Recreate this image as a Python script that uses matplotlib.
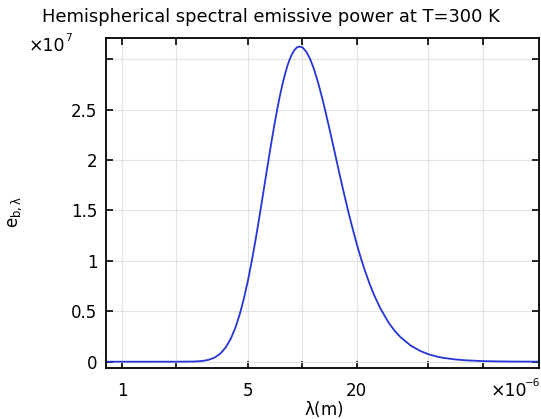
import matplotlib
matplotlib.use("Agg")
import matplotlib.pyplot as plt

# Wavelength (micrometres, i.e. x 1e-6 m) and emissive power (x 1e7)
wavelength_um = [0.81, 1.0, 1.5, 2.0, 2.5, 2.75, 3.0, 3.25, 3.5, 3.75, 4.0, 4.25, 4.5, 4.75,
                 5.0, 5.25, 5.5, 5.75, 6.0, 6.25, 6.5, 6.75, 7.0, 7.25, 7.5, 7.75,
                 8.0, 8.25, 8.5, 8.75, 9.0, 9.33, 9.66, 10.0, 10.5, 11.0, 11.5, 12.0,
                 12.5, 13.0, 13.5, 14.0, 14.5, 15.0, 16.0, 17.0, 18.0, 19.0, 20.0,
                 21.0, 22.0, 23.5, 25.0, 27.0, 30.0, 32.5, 35.0, 40.0, 45.0, 50.0,
                 55.0, 60.0, 70.0, 80.0, 100.0, 120.0, 150.0, 204.0]
emissive_power_e7 = [0.0, 0.0, 0.0, 0.00005, 0.0018, 0.0063, 0.0176, 0.040, 0.080, 0.141,
                     0.227, 0.339, 0.477, 0.638,
                     0.817, 1.012, 1.214, 1.420, 1.625, 1.825, 2.015, 2.194, 2.358, 2.507,
                     2.639, 2.755, 2.851, 2.935, 3.000, 3.051, 3.088, 3.119, 3.126, 3.118,
                     3.075, 3.007, 2.920, 2.816, 2.701, 2.584, 2.460, 2.339, 2.217, 2.100,
                     1.874, 1.669, 1.482, 1.317, 1.169, 1.039, 0.925, 0.779, 0.660, 0.532,
                     0.390, 0.306, 0.243, 0.158, 0.107, 0.074, 0.053, 0.039, 0.023, 0.014,
                     0.006, 0.0031, 0.0013, 0.0004]

x_ticks = [1, 2, 5, 10, 20, 50, 100]
x_tick_labels = ["1", "", "5", "", "20", "", ""]
y_ticks = [0, 0.5, 1, 1.5, 2, 2.5, 3]
y_tick_labels = ["0", "0.5", "1", "1.5", "2", "2.5", ""]

W, H = 541, 419
fig = plt.figure(figsize=(W / 100, H / 100), dpi=100)
ax = fig.add_axes([0.1954, 0.1217, 0.9954 - 0.1954, 0.9093 - 0.1217])

ax.plot(wavelength_um, emissive_power_e7, color="#2436d8", lw=1.3)
ax.set_xscale("log")
ax.set_xlim(0.81, 204)
ax.set_ylim(-0.0625, 3.211)

ax.set_xticks(x_ticks)
ax.set_xticklabels(x_tick_labels)
ax.xaxis.set_minor_locator(matplotlib.ticker.NullLocator())
ax.set_yticks(y_ticks)
ax.set_yticklabels(y_tick_labels)

ax.tick_params(axis="both", which="major", direction="in", length=5, width=1.2,
               top=True, right=True, labelsize=12, colors="black")
ax.tick_params(axis="x", pad=10)
ax.tick_params(axis="y", pad=6)
ax.grid(True, color="#e3e3e3", lw=0.8)
ax.set_axisbelow(True)
for s in ax.spines.values():
    s.set_linewidth(1.3)

fig.text(0.5, 1 - 17 / H, "Hemispherical spectral emissive power at T=300 K",
         fontsize=12.9, ha="center", va="center")
fig.text(324 / W, 1 - 409 / H, r"$\mathregular{\lambda(m)}$", fontsize=12,
         ha="center", va="center")
fig.text(15 / W, 1 - 212 / H, r"$\mathregular{e_{b,\lambda}}$", fontsize=12,
         ha="center", va="center", rotation=90)

# multiplier labels
fig.text(29 / W, 1 - 46 / H, "\u00d710", fontsize=12.5, ha="left", va="center")
fig.text(65 / W, 1 - 38 / H, "7", fontsize=7.5, ha="left", va="center")
fig.text(491 / W, 1 - 391 / H, "\u00d710", fontsize=12.5, ha="left", va="center")
fig.text(525 / W, 1 - 383 / H, "\u22126", fontsize=7.5, ha="left", va="center")

fig.savefig("out.png", dpi=100)
